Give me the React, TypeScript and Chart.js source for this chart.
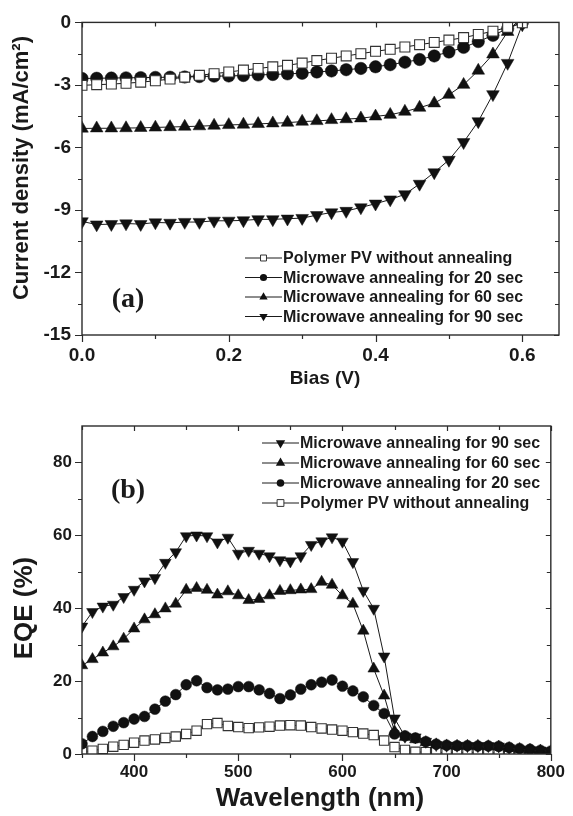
import React, { useEffect, useRef } from "react";
import { Chart, registerables } from "chart.js";

Chart.register(...registerables);

// ---------- Panel (a): J-V curves ----------
const biasV = [0.0, 0.02, 0.04, 0.06, 0.08, 0.1, 0.12, 0.14, 0.16, 0.18, 0.2, 0.22, 0.24, 0.26, 0.28, 0.3, 0.32, 0.34, 0.36, 0.38, 0.4, 0.42, 0.44, 0.46, 0.48, 0.5, 0.52, 0.54, 0.56, 0.58, 0.6];
const jNoAnneal = [-3.02, -2.99, -2.96, -2.92, -2.87, -2.8, -2.72, -2.63, -2.54, -2.46, -2.38, -2.29, -2.21, -2.13, -2.06, -1.95, -1.83, -1.72, -1.61, -1.5, -1.39, -1.29, -1.18, -1.07, -0.96, -0.85, -0.73, -0.58, -0.42, -0.24, -0.02];
const j20s = [-2.69, -2.68, -2.67, -2.66, -2.65, -2.64, -2.63, -2.62, -2.6, -2.58, -2.57, -2.55, -2.52, -2.5, -2.47, -2.44, -2.38, -2.33, -2.27, -2.21, -2.13, -2.03, -1.91, -1.78, -1.61, -1.42, -1.2, -0.92, -0.62, -0.3, 0.0];
const j60s = [-5.09, -5.08, -5.08, -5.07, -5.06, -5.04, -5.02, -5.0, -4.98, -4.95, -4.92, -4.9, -4.87, -4.84, -4.81, -4.76, -4.73, -4.68, -4.64, -4.6, -4.51, -4.43, -4.28, -4.09, -3.88, -3.47, -2.99, -2.31, -1.53, -0.45, 0.3];
const j90s = [-9.55, -9.7, -9.68, -9.65, -9.68, -9.6, -9.62, -9.58, -9.58, -9.52, -9.52, -9.5, -9.45, -9.45, -9.42, -9.39, -9.25, -9.12, -9.05, -8.88, -8.7, -8.5, -8.25, -7.75, -7.2, -6.6, -5.75, -4.75, -3.45, -1.95, -0.1];
const biasTicks = [0, 0.2, 0.4, 0.6];
const biasMinorTicks = [0.1, 0.3, 0.5];
const jTicks = [-15, -12, -9, -6, -3, 0];
const jMinorTicks = [-13.5, -10.5, -7.5, -4.5, -1.5];

// ---------- Panel (b): EQE spectra ----------
const wavelengthNm = [350, 360, 370, 380, 390, 400, 410, 420, 430, 440, 450, 460, 470, 480, 490, 500, 510, 520, 530, 540, 550, 560, 570, 580, 590, 600, 610, 620, 630, 640, 650, 660, 670, 680, 690, 700, 710, 720, 730, 740, 750, 760, 770, 780, 790, 800];
const eqe90s = [35.0, 39.0, 40.5, 41.0, 43.1, 45.1, 47.4, 48.3, 52.5, 55.4, 59.8, 60.0, 59.8, 58.1, 59.4, 55.0, 55.8, 55.0, 54.3, 53.2, 52.9, 54.3, 57.4, 58.4, 59.5, 58.3, 52.7, 44.8, 39.9, 26.8, 9.8, 4.8, 4.6, 3.4, 2.5, 2.3, 2.3, 2.2, 2.2, 2.2, 2.1, 1.6, 1.3, 1.1, 1.0, 0.8];
const eqe60s = [24.3, 26.0, 27.8, 29.5, 31.6, 34.4, 36.9, 38.3, 39.9, 41.2, 45.0, 45.5, 45.0, 43.7, 44.6, 43.5, 42.2, 42.5, 43.5, 44.7, 44.9, 45.1, 45.2, 47.2, 46.4, 43.5, 41.2, 33.8, 23.4, 16.0, 6.2, 4.6, 4.0, 3.2, 2.6, 2.3, 2.2, 2.2, 2.2, 2.1, 2.0, 1.6, 1.3, 1.1, 0.9, 0.7];
const eqe20s = [2.8, 4.8, 6.2, 7.6, 8.6, 9.6, 10.3, 12.3, 14.5, 16.3, 19.0, 20.1, 18.2, 17.6, 17.8, 18.5, 18.5, 17.6, 16.6, 15.2, 16.2, 17.8, 19.0, 19.7, 20.3, 18.6, 17.3, 15.7, 13.3, 11.1, 5.5, 5.0, 4.4, 3.4, 2.7, 2.4, 2.3, 2.3, 2.2, 2.2, 2.1, 1.8, 1.5, 1.3, 1.0, 0.8];
const eqeNoAnneal = [0.6, 0.9, 1.4, 2.0, 2.5, 3.1, 3.7, 4.0, 4.4, 4.8, 5.5, 6.4, 8.2, 8.5, 7.7, 7.4, 7.1, 7.3, 7.5, 7.8, 7.9, 7.8, 7.4, 7.0, 6.7, 6.4, 6.0, 5.6, 5.2, 3.7, 1.9, 1.1, 0.6, 0.5, 0.5, 0.4, 0.4, 0.4, 0.4, 0.3, 0.3, 0.3, 0.2, 0.2, 0.2, 0.2];
const wlTicks = [400, 500, 600, 700, 800];
const wlMinorTicks = [350, 450, 550, 650, 750];
const eqeTicks = [0, 20, 40, 60, 80];
const eqeMinorTicks = [10, 30, 50, 70];

const labelNone = "Polymer PV without annealing";
const label20 = "Microwave annealing for 20 sec";
const label60 = "Microwave annealing for 60 sec";
const label90 = "Microwave annealing for 90 sec";

const SANS = '"Liberation Sans", Arial, sans-serif';
const SERIF = '"Liberation Serif", "Times New Roman", serif';

type Style = "rect" | "circle" | "triangle" | "triangleDown";

function drawMarker(ctx: CanvasRenderingContext2D, style: Style, x: number, y: number, r: number) {
  ctx.beginPath();
  if (style === "circle") {
    ctx.arc(x, y, r, 0, Math.PI * 2);
  } else if (style === "rect") {
    const s = r * Math.SQRT1_2;
    ctx.rect(x - s, y - s, 2 * s, 2 * s);
  } else {
    const d = style === "triangle" ? 1 : -1;
    for (let i = 0; i < 3; i++) {
      const a = (i * 2 * Math.PI) / 3;
      const px = x + Math.sin(a) * r;
      const py = y - d * Math.cos(a) * r;
      if (i === 0) ctx.moveTo(px, py);
      else ctx.lineTo(px, py);
    }
    ctx.closePath();
  }
  if (style === "rect") {
    ctx.fillStyle = "#fff";
    ctx.fill();
    ctx.strokeStyle = "#333";
    ctx.lineWidth = 1;
    ctx.stroke();
  } else {
    ctx.fillStyle = "#111";
    ctx.fill();
  }
}

function series(label: string, xs: number[], ys: number[], style: Style, r: number) {
  const isRect = style === "rect";
  return {
    label,
    data: xs.map((x, i) => ({ x, y: ys[i] })),
    borderColor: "#1a1a1a",
    borderWidth: 1,
    tension: 0,
    pointStyle: style === "triangleDown" ? "triangle" : style,
    pointRotation: style === "triangleDown" ? 180 : 0,
    pointRadius: r,
    pointHoverRadius: r,
    pointBackgroundColor: isRect ? "#fff" : "#111",
    pointBorderColor: isRect ? "#333" : "#111",
    pointBorderWidth: isRect ? 1.1 : 0.5,
  };
}

type LegendItem = { label: string; style: Style; r: number };
type TextItem = { text: string; x: number; y: number; font: string; rotate?: boolean };

function makeDecor(opts: {
  xMinor: number[];
  yMinor: number[];
  legend: { items: LegendItem[]; x1: number; x2: number; y0: number; dy: number; font: string };
  texts: TextItem[];
}) {
  return {
    id: "decor",
    afterDraw(chart: any) {
      const { ctx, chartArea: a, scales } = chart;
      const xs = scales.x;
      const ys = scales.y;
      ctx.save();
      ctx.strokeStyle = "#2b2b2b";
      ctx.lineWidth = 1.4;
      ctx.strokeRect(a.left, a.top, a.right - a.left, a.bottom - a.top);
      ctx.lineWidth = 1.2;
      ctx.beginPath();
      const xMaj = xs.ticks.map((t: any) => t.value);
      const yMaj = ys.ticks.map((t: any) => t.value);
      const xt = (v: number, out: number, inn: number) => {
        const p = Math.round(xs.getPixelForValue(v)) + 0.5;
        ctx.moveTo(p, a.bottom);
        ctx.lineTo(p, a.bottom + out);
        ctx.moveTo(p, a.top);
        ctx.lineTo(p, a.top + inn);
      };
      const yt = (v: number, out: number, inn: number) => {
        const p = Math.round(ys.getPixelForValue(v)) + 0.5;
        ctx.moveTo(a.left, p);
        ctx.lineTo(a.left - out, p);
        ctx.moveTo(a.right, p);
        ctx.lineTo(a.right - inn, p);
      };
      xMaj.forEach((v: number) => xt(v, 7, 5));
      opts.xMinor.forEach((v) => xt(v, 4, 4));
      yMaj.forEach((v: number) => yt(v, 7, 5));
      opts.yMinor.forEach((v) => yt(v, 4, 4));
      ctx.stroke();

      // legend
      const lg = opts.legend;
      lg.items.forEach((it, i) => {
        const y = lg.y0 + i * lg.dy;
        ctx.beginPath();
        ctx.strokeStyle = "#1a1a1a";
        ctx.lineWidth = 1;
        ctx.moveTo(lg.x1, y);
        ctx.lineTo(lg.x2, y);
        ctx.stroke();
        drawMarker(ctx, it.style, (lg.x1 + lg.x2) / 2, y, it.r);
        ctx.fillStyle = "#1a1a1a";
        ctx.font = lg.font;
        ctx.textAlign = "left";
        ctx.textBaseline = "middle";
        ctx.fillText(it.label, lg.x2 + 1, y + 1);
      });

      // texts
      opts.texts.forEach((t) => {
        ctx.save();
        ctx.fillStyle = "#1a1a1a";
        ctx.font = t.font;
        ctx.textAlign = "center";
        ctx.textBaseline = "middle";
        ctx.translate(t.x, t.y);
        if (t.rotate) ctx.rotate(-Math.PI / 2);
        ctx.fillText(t.text, 0, 0);
        ctx.restore();
      });
      ctx.restore();
    },
  };
}

function axisCommon(size: number, fit: (s: any) => void, ticksList: number[], fmt: (v: number) => string, padding: number) {
  return {
    type: "linear" as const,
    grid: { display: false, drawTicks: false },
    border: { display: false },
    afterFit: fit,
    afterBuildTicks: (s: any) => {
      s.ticks = ticksList.map((v) => ({ value: v }));
    },
    ticks: {
      color: "#1a1a1a",
      padding,
      font: { family: SANS, size, weight: "bold" as const },
      callback: (v: any) => fmt(Number(v)),
      maxRotation: 0,
      autoSkip: false,
    },
  };
}

function ChartA() {
  const ref = useRef<HTMLCanvasElement>(null);
  useEffect(() => {
    const chart = new Chart(ref.current!, {
      type: "line",
      data: {
        datasets: [
          series(labelNone, biasV, jNoAnneal, "rect", 7),
          series(label20, biasV, j20s, "circle", 6.2),
          series(label60, biasV, j60s, "triangle", 7.3),
          series(label90, biasV, j90s, "triangleDown", 7.3),
        ] as any,
      },
      options: {
        animation: false,
        responsive: false,
        events: [],
        layout: { padding: { left: 0, top: 17, right: 14, bottom: 0 } },
        plugins: { legend: { display: false }, tooltip: { enabled: false } },
        scales: {
          x: { ...axisCommon(19, (s: any) => { s.height = 65; }, biasTicks, (v) => v.toFixed(1), 9), min: 0, max: 0.65 },
          y: { ...axisCommon(19, (s: any) => { s.width = 82; }, jTicks, (v) => String(v), 11), min: -15, max: 0 },
        } as any,
      },
      plugins: [
        makeDecor({
          xMinor: biasMinorTicks,
          yMinor: jMinorTicks,
          legend: {
            items: [
              { label: labelNone, style: "rect", r: 4.2 },
              { label: label20, style: "circle", r: 3.6 },
              { label: label60, style: "triangle", r: 4.8 },
              { label: label90, style: "triangleDown", r: 4.8 },
            ],
            x1: 245,
            x2: 282,
            y0: 258,
            dy: 19.5,
            font: `bold 16px ${SANS}`,
          },
          texts: [
            { text: "Current density (mA/cm²)", x: 22, y: 168, font: `bold 22px ${SANS}`, rotate: true },
            { text: "Bias (V)", x: 325, y: 379, font: `bold 19px ${SANS}` },
            { text: "(a)", x: 128, y: 300, font: `bold 28px ${SERIF}` },
          ],
        }),
      ],
    });
    return () => chart.destroy();
  }, []);
  return <canvas ref={ref} width={573} height={400} style={{ position: "absolute", left: 0, top: 0, width: 573, height: 400 }} />;
}

function ChartB() {
  const ref = useRef<HTMLCanvasElement>(null);
  useEffect(() => {
    const chart = new Chart(ref.current!, {
      type: "line",
      data: {
        datasets: [
          series(label90, wavelengthNm, eqe90s, "triangleDown", 6.7),
          series(label60, wavelengthNm, eqe60s, "triangle", 6.7),
          series(label20, wavelengthNm, eqe20s, "circle", 5.4),
          series(labelNone, wavelengthNm, eqeNoAnneal, "rect", 6.6),
        ] as any,
      },
      options: {
        animation: false,
        responsive: false,
        events: [],
        layout: { padding: { left: 0, top: 26, right: 14, bottom: 0 } },
        plugins: { legend: { display: false }, tooltip: { enabled: false } },
        scales: {
          x: { ...axisCommon(17, (s: any) => { s.height = 62; }, wlTicks, (v) => String(v), 8), min: 350, max: 800 },
          y: { ...axisCommon(17, (s: any) => { s.width = 82; }, eqeTicks, (v) => String(v), 10), min: 0, max: 90 },
        } as any,
      },
      plugins: [
        makeDecor({
          xMinor: wlMinorTicks,
          yMinor: eqeMinorTicks,
          legend: {
            items: [
              { label: label90, style: "triangleDown", r: 5.4 },
              { label: label60, style: "triangle", r: 5.4 },
              { label: label20, style: "circle", r: 3.8 },
              { label: labelNone, style: "rect", r: 4.8 },
            ],
            x1: 262,
            x2: 299,
            y0: 43,
            dy: 20,
            font: `bold 16px ${SANS}`,
          },
          texts: [
            { text: "EQE (%)", x: 25, y: 208, font: `bold 26px ${SANS}`, rotate: true },
            { text: "Wavelength (nm)", x: 320, y: 399, font: `bold 26px ${SANS}` },
            { text: "(b)", x: 128, y: 91, font: `bold 28px ${SERIF}` },
          ],
        }),
      ],
    });
    return () => chart.destroy();
  }, []);
  return <canvas ref={ref} width={573} height={416} style={{ position: "absolute", left: 0, top: 400, width: 573, height: 416 }} />;
}

export default function App() {
  return (
    <div style={{ position: "absolute", left: 0, top: 0, width: 573, height: 816, background: "#fff" }}>
      <ChartA />
      <ChartB />
    </div>
  );
}
